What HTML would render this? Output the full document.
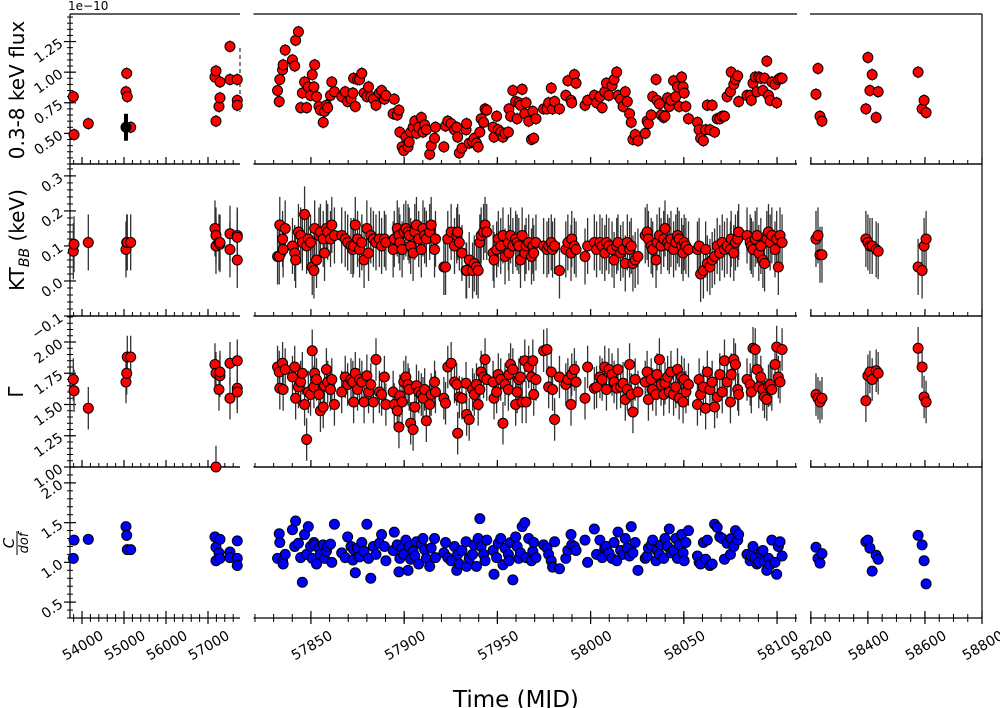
<!DOCTYPE html>
<html><head><meta charset="utf-8">
<style>
html,body{margin:0;padding:0;background:#fff;overflow:hidden;}
svg{display:block;font-family:"DejaVu Sans","Liberation Sans",sans-serif;}
</style></head>
<body>
<svg id="chart" width="1000" height="708" viewBox="0 0 1000 708" xmlns="http://www.w3.org/2000/svg" style="position:absolute;left:0;top:0;"></svg>
<script>
// ---- data: left panel (archival) ----
const tLeft = [53793,53810,54150,55047,55064,55078,55159,57166,57190,57190,57262,57285,57285,57523,57523,57697,57697,57697];
const fluxLeft = [0.80,0.49,0.58,0.84,0.99,0.80,0.55,0.96,1.01,0.60,0.72,0.92,0.79,1.21,0.94,0.94,0.77,0.73];
const ktLeft = [0.085,0.105,0.11,0.09,0.11,0.11,0.11,0.15,0.13,0.10,0.11,0.105,0.11,0.135,0.09,0.13,0.125,0.06];
const gammaLeft = [1.70,1.61,1.47,1.68,1.75,1.88,1.88,1.82,1.75,1.00,1.62,1.73,1.76,1.83,1.55,1.85,1.63,1.60];
const cdofLeft = [1.05,1.28,1.29,1.45,1.34,1.16,1.16,1.32,1.19,1.02,1.12,1.05,1.29,1.13,1.06,1.27,1.05,0.96];
const tBlack = [55047];
const fluxBlack = [0.55];
const fluxBlackErr = [0.11];

// ---- data: middle panel (monitoring) ----
const tMid = [
57832.1,57833.0,57833.3,57834.8,57835.1,57836.2,57840.1,57841.3,57841.8,57843.3,
57844.5,57845.4,57846.6,57847.7,57848.6,57849.8,57850.7,57851.6,57852.0,57853.0,
57854.3,57855.1,57856.6,57857.3,57858.3,57859.0,57860.5,57861.2,57862.6,57866.5,
57868.4,57869.7,57871.5,57872.5,57872.9,57873.8,57875.0,57876.1,57877.3,57878.5,
57880.0,57880.9,57882.1,57883.5,57884.9,57886.7,57887.9,57889.4,57890.2,57894.7,
57894.1,57896.3,57897.2,57897.7,57898.9,57899.8,57900.9,57902.1,57902.7,57903.5,
57904.8,57905.7,57906.6,57907.8,57909.2,57910.1,57911.0,57911.9,57913.7,57914.5,
57916.3,57916.8,57921.3,57922.2,57923.4,57925.2,57927.0,57928.2,57928.7,57929.6,
57931.0,57933.2,57933.5,57934.9,57936.7,57937.6,57938.8,57939.7,57940.6,57941.3,
57942.6,57943.4,57944.3,57947.7,57948.2,57949.6,57950.5,57951.8,57953.0,57954.1,
57955.9,57956.2,57957.1,57958.3,57959.8,57960.6,57961.5,57962.4,57963.3,57964.7,
57965.4,57966.8,57968.3,57969.0,57969.5,57970.7,57974.8,57976.6,57977.5,57978.9,
57979.6,57980.7,57983.3,57986.7,57987.8,57989.5,57989.9,57991.3,57992.2,57997.0,
57998.4,58002.0,58003.2,58005.0,58006.2,58007.6,58008.5,58009.8,58011.5,58012.6,
58014.0,58014.7,58016.1,58017.4,58018.6,58019.7,58020.9,58021.8,58022.7,58023.9,
58025.4,58029.3,58030.3,58031.0,58032.5,58033.3,58035.1,58035.6,58036.9,58037.8,
58039.2,58039.9,58041.3,58042.2,58043.1,58044.5,58045.7,58046.6,58047.5,58048.8,
58049.6,58050.2,58051.1,58052.5,58057.3,58058.2,58059.0,58060.5,58061.7,58062.6,
58064.0,58065.2,58066.5,58067.9,58069.3,58070.6,58071.8,58073.2,58075.0,58075.4,
58076.8,58077.7,58078.9,58079.4,58083.9,58085.6,58086.2,58087.1,58088.3,58089.2,
58090.2,58091.3,58092.4,58093.3,58094.5,58095.4,58096.3,58097.2,58098.9,58099.8,
58100.7,58101.6,58102.7];
const fluxMid = [
.85,.76,.94,1.02,1.06,1.18,1.10,1.05,1.26,1.33,
.71,.83,.92,.71,.88,.81,.98,.88,1.06,.80,
.72,.69,.59,.68,.73,.71,.81,.92,.84,.80,
.84,.76,.78,.83,.95,.72,.94,.94,.99,.83,
.80,.88,.80,.78,.73,.83,.85,.78,.81,.78,
.66,.65,.69,.51,.39,.36,.47,.39,.43,.51,
.55,.60,.50,.55,.63,.51,.57,.53,.33,.40,
.46,.55,.39,.56,.60,.58,.53,.55,.47,.34,
.38,.53,.58,.42,.43,.46,.42,.39,.51,.62,
.59,.70,.69,.55,.47,.64,.53,.51,.47,.50,
.51,.70,.64,.85,.76,.62,.75,.73,.86,.66,
.75,.60,.45,.68,.46,.62,.70,.70,.75,.87,
.70,.76,.70,.81,.93,.77,.75,.98,.91,.73,
.77,.81,.75,.80,.71,.84,.91,.81,.89,.94,
1.00,.81,.78,.72,.84,.76,.66,.59,.45,.49,
.44,.50,.60,.58,.65,.80,.94,.77,.74,.65,
.63,.64,.79,.72,.77,.93,.80,.88,.72,.96,
.88,.83,.72,.62,.59,.53,.46,.44,.53,.73,
.53,.73,.51,.62,.62,.64,.64,.80,.84,1.00,
.90,.94,.97,.76,.81,.81,.77,.91,.96,.84,
.96,.95,.85,.95,1.09,.81,.77,.92,.90,.75,
.94,.95,.95];
const ktMid = [
.07,.07,.16,.12,.09,.15,.10,.08,.06,.14,.13,.11,.19,.10,.12,.11,
.04,.03,.15,.06,.13,.14,.12,.08,.15,.14,.12,.16,.13,
.13,.12,.11,.10,.09,.10,.16,.12,.09,.11,.06,.15,.08,.13,.12,.11,.12,.10,.12,.11,
.12,.09,.15,.13,.11,.09,.14,.15,.14,.13,.10,.08,.14,.16,.12,.09,.15,.13,.12,.14,.16,.09,.12,
.04,.04,.12,.14,.10,.13,.14,.11,.08,.03,.03,.06,.03,.05,.04,.03,.11,.13,.14,.16,.14,
.08,.06,.09,.12,.10,.13,.07,.11,.08,.13,.10,.12,.11,.10,.06,.13,.08,.10,.11,.07,
.10,.08,.11,.10,.09,.10,.11,.09,.10,.03,.09,.11,.08,.12,.10,.09,.07,.10,
.11,.09,.11,.10,.08,.11,.10,.09,.06,.10,.11,.08,.09,.05,.11,.09,.10,.05,.06,.07,
.13,.14,.12,.10,.09,.06,.11,.13,.10,.12,.15,.11,.10,.12,.09,.11,.13,.12,.10,.08,.11,.10,.09,
.09,.10,.02,.03,.09,.05,.04,.06,.07,.10,.08,.11,.09,
.10,.09,.12,.08,.11,.12,.14,.13,.11,.10,.09,.12,.13,.08,.10,.06,.05,.12,.14,.11,.13,.09,.12,.04,.13,.11];
const gammaMid = [
1.80,1.76,1.63,1.83,1.62,1.78,1.72,1.80,1.55,1.64,1.68,1.75,1.50,1.22,1.60,1.58,
1.93,1.64,1.75,1.70,1.58,1.45,1.48,1.65,1.78,1.68,1.62,1.70,1.50,
1.60,1.72,1.66,1.70,1.68,1.52,1.75,1.62,1.70,1.68,1.52,1.73,1.60,1.66,1.52,1.86,1.60,1.58,1.72,1.50,
1.50,1.60,1.45,1.32,1.57,1.52,1.68,1.72,1.66,1.62,1.35,1.30,1.48,1.65,1.60,1.58,1.55,1.62,1.37,1.50,1.58,1.68,1.60,
1.55,1.51,1.80,1.83,1.68,1.66,1.27,1.56,1.55,1.67,1.42,1.38,1.62,1.58,1.66,1.50,1.62,1.76,1.72,1.86,1.70,
1.68,1.55,1.60,1.74,1.70,1.35,1.66,1.62,1.74,1.82,1.78,1.50,1.60,1.70,1.72,1.52,1.85,1.52,1.80,1.72,
1.85,1.58,1.70,1.93,1.94,1.64,1.76,1.62,1.38,1.72,1.66,1.70,1.50,1.74,1.78,1.68,1.55,1.80,
1.63,1.64,1.72,1.70,1.80,1.62,1.78,1.74,1.68,1.63,1.78,1.64,1.67,1.54,1.62,1.82,1.58,1.44,1.70,1.60,
1.68,1.76,1.54,1.70,1.62,1.58,1.74,1.86,1.66,1.58,1.67,1.72,1.60,1.76,1.58,1.64,1.78,1.55,1.72,1.52,1.70,1.60,1.66,
1.50,1.70,1.58,1.64,1.47,1.76,1.62,1.68,1.48,1.56,1.74,1.60,1.85,
1.68,1.52,1.74,1.86,1.82,1.62,1.58,1.70,1.66,1.60,1.95,1.94,1.78,1.64,1.72,1.62,1.56,1.54,1.65,1.66,1.62,1.82,1.96,1.72,1.68,1.94];
const cdofMid = [
1.05,1.36,1.25,1.02,0.98,1.10,1.41,1.20,1.52,1.24,1.06,0.75,1.35,1.10,1.45,1.20,
1.05,1.25,1.22,0.98,1.18,1.10,1.22,1.05,1.14,1.20,1.23,1.00,1.48,
1.12,1.06,1.32,1.20,1.03,1.16,0.87,1.18,1.07,1.25,1.14,1.48,1.05,0.80,1.20,1.10,1.24,1.35,1.20,1.02,
1.38,1.15,1.22,0.88,1.05,1.18,1.10,1.28,0.90,1.20,1.04,1.14,1.08,1.26,0.98,1.23,1.30,1.16,1.05,0.95,1.18,1.30,1.06,
1.12,1.25,1.06,1.02,1.20,0.90,1.10,0.98,1.15,1.26,0.95,1.05,1.10,1.22,0.95,1.30,1.55,1.20,1.10,1.02,1.28,
1.15,0.85,1.06,1.24,1.30,0.97,1.18,1.10,1.02,1.25,0.78,1.32,1.20,1.05,1.12,1.45,1.50,1.06,1.30,1.02,
1.14,1.25,1.06,1.22,1.18,1.10,1.02,0.94,1.26,0.92,1.05,1.15,1.35,1.22,1.20,1.15,1.28,1.00,
1.42,1.10,1.28,1.06,1.18,1.20,1.12,1.05,1.25,1.02,1.38,1.15,1.10,1.30,1.18,1.08,1.45,1.12,1.25,0.90,
1.05,1.08,1.18,1.22,1.28,1.02,1.15,1.10,1.22,1.05,1.30,1.20,1.42,1.12,1.15,1.30,1.05,1.22,1.35,1.12,1.02,1.25,1.40,
1.08,1.00,0.98,1.25,1.04,1.28,0.96,0.98,1.48,1.44,1.32,1.30,1.04,
1.24,1.10,1.30,1.20,1.40,1.28,1.35,1.10,1.02,1.08,1.20,1.06,0.98,1.00,1.12,1.15,1.02,0.90,1.05,0.97,1.28,1.00,0.85,1.20,1.26,1.08];

// ---- data: right panel ----
const tRight = [58218,58225,58232,58239,58393,58400,58407,58415,58429,58436,58576,58590,58597,58604];
const fluxRight = [0.82,1.03,0.64,0.60,0.70,1.12,0.85,0.98,0.63,0.84,1.00,0.70,0.77,0.67];
const ktRight = [0.12,0.13,0.075,0.075,0.12,0.11,0.10,0.10,0.09,0.085,0.04,0.03,0.10,0.12];
const gammaRight = [1.58,1.55,1.52,1.55,1.53,1.73,1.76,1.70,1.77,1.75,1.95,1.80,1.56,1.52];
const cdofRight = [1.19,1.05,0.99,1.11,1.26,1.28,1.18,0.89,1.09,1.04,1.34,1.22,1.02,0.73];

// typical error sizes per row
const fluxErr = 0.05, ktErr = 0.08, gammaErr = 0.17;

// ---- ticks ----
const xTicksLeft = [54000,55000,56000,57000];
const xTicksMid = [57850,57900,57950,58000,58050,58100];
const xTicksRight = [58200,58400,58600,58800];
const yTicksFlux = [0.50,0.75,1.00,1.25];
const yTicksKt = [-0.1,0.0,0.1,0.2,0.3];
const yTicksGamma = [1.00,1.25,1.50,1.75,2.00];
const yTicksCdof = [0.5,1.0,1.5,2.0];

const NS = "http://www.w3.org/2000/svg";
const svg = document.getElementById('chart');
function mk(tag, attrs, parent){
  const e = document.createElementNS(NS, tag);
  for (const k in attrs) e.setAttribute(k, attrs[k]);
  (parent||svg).appendChild(e);
  return e;
}
const cols = {
  L:{x0:70,x1:240,d0:53714,d1:57762},
  M:{x0:253.5,x1:797,d0:57819.2,d1:58110.7},
  R:{x0:810,x1:982,d0:58197,d1:58800}
};
const rows = [
  {y0:14,y1:164,v0:0.25,v1:1.475,ticks:yTicksFlux,minor:0.05,fmt:v=>v.toFixed(2)},
  {y0:164,y1:316,v0:-0.1,v1:0.334,ticks:yTicksKt,minor:0.02,fmt:v=>(v<0?'\u22120.1':v.toFixed(1))},
  {y0:316,y1:467,v0:1.0,v1:2.208,ticks:yTicksGamma,minor:0.05,fmt:v=>v.toFixed(2)},
  {y0:467,y1:618,v0:0.3,v1:2.2,ticks:yTicksCdof,minor:0.1,fmt:v=>v.toFixed(1)}
];
function xs(c,v){const C=cols[c];return C.x0+(v-C.d0)/(C.d1-C.d0)*(C.x1-C.x0);}
function ys(r,v){const R=rows[r];return R.y1-(v-R.v0)/(R.v1-R.v0)*(R.y1-R.y0);}

const g = mk('g',{});


rows.forEach((R,ri)=>{
  ['L','M','R'].forEach(c=>{
    const C=cols[c];
    const top = mk('line',{x1:C.x0,x2:C.x1,y1:R.y0,y2:R.y0,stroke:'#000','stroke-width':1.2},g);
    
    
    const bot = mk('line',{x1:C.x0,x2:C.x1,y1:R.y1,y2:R.y1,stroke:'#000','stroke-width':1.2},g);
    
    
  });
  const ls = mk('line',{x1:70,x2:70,y1:R.y0,y2:R.y1,stroke:'#000','stroke-width':1.2},g);
  
  
  const rs = mk('line',{x1:982,x2:982,y1:R.y0,y2:R.y1,stroke:'#000','stroke-width':1.2},g);
  
  
  for (let v=R.v0; v<=R.v1+1e-9; v+=R.minor){
    const y=ys(ri,v);
    const mt = mk('line',{x1:67,x2:73,y1:y,y2:y,stroke:'#000','stroke-width':1},g);
    
    
  }
  R.ticks.forEach(v=>{
    const y=ys(ri,v);
    const t = mk('line',{x1:64,x2:76,y1:y,y2:y,stroke:'#000','stroke-width':1.2},g);
    
    
    const lb = mk('text',{x:61,y:y+5,'font-size':14,'text-anchor':'end',transform:`rotate(-35 61 ${y})`,fill:'#000'});
    lb.textContent = R.fmt(v);
    
    
  });
  const specs = [['L',xTicksLeft,200],['M',xTicksMid,10],['R',xTicksRight,50]];
  specs.forEach(([c,maj,mn])=>{
    const C=cols[c];
    const start=Math.ceil(C.d0/mn)*mn;
    for(let v=start; v<=C.d1; v+=mn){
      const x=xs(c,v);
      const m=mk('line',{x1:x,x2:x,y1:R.y1-4,y2:R.y1+(ri==3?4:0),stroke:'#000','stroke-width':1},g);
      
      
    }
    maj.forEach(v=>{
      const x=xs(c,v);
      const m=mk('line',{x1:x,x2:x,y1:R.y1-7,y2:R.y1+(ri==3?6:0),stroke:'#000','stroke-width':1.2},g);
      
      
      if(ri==3){
        const ax=x+20, ay=634;
        const lb=mk('text',{x:ax,y:ay+5,'font-size':14,'text-anchor':'end',transform:`rotate(-30 ${ax} ${ay})`,fill:'#000'});
        lb.textContent=String(v);
        
        
      }
    });
  });
});
// short dashed break segment at left column right edge (top row only)
const br = mk('line',{x1:240,x2:240,y1:48,y2:112,stroke:'#000','stroke-width':1,'stroke-dasharray':'4,3'},g);



function series(c, ri, ts, vs, err, fill, name){
  const sg = mk('g',{});
  
  
  const R=rows[ri];
  ts.forEach((t,i)=>{
    const x=xs(c,t);
    if(err){
      const e=mk('line',{x1:x,x2:x,y1:Math.max(R.y0,ys(ri,vs[i]+err)),y2:Math.min(R.y1,ys(ri,vs[i]-err)),stroke:'#333','stroke-width':1.3},sg);
      
      
    }
  });
  ts.forEach((t,i)=>{
    const x=xs(c,t), y=ys(ri,vs[i]);
    const p=mk('circle',{cx:x,cy:y,r:5,fill:fill,stroke:'#000','stroke-width':1},sg);
    
    
  });
}
series('L',0,tLeft,fluxLeft,fluxErr,'#ff0000','flux-series-left');
tBlack.forEach((t,i)=>{
  const x=xs('L',t);
  const e=mk('line',{x1:x,x2:x,y1:ys(0,fluxBlack[i]+fluxBlackErr[i]),y2:ys(0,fluxBlack[i]-fluxBlackErr[i]),stroke:'#000','stroke-width':4});
  
  
  const p=mk('circle',{cx:x,cy:ys(0,fluxBlack[i]),r:5,fill:'#000',stroke:'#000'});
  
  
});
series('M',0,tMid,fluxMid,fluxErr,'#ff0000','flux-series-mid');
series('R',0,tRight,fluxRight,fluxErr,'#ff0000','flux-series-right');
series('L',1,tLeft,ktLeft,ktErr,'#ff0000','kt-series-left');
series('M',1,tMid,ktMid,ktErr,'#ff0000','kt-series-mid');
series('R',1,tRight,ktRight,ktErr,'#ff0000','kt-series-right');
series('L',2,tLeft,gammaLeft,gammaErr,'#ff0000','gamma-series-left');
series('M',2,tMid,gammaMid,gammaErr,'#ff0000','gamma-series-mid');
series('R',2,tRight,gammaRight,gammaErr,'#ff0000','gamma-series-right');
series('L',3,tLeft,cdofLeft,0,'#0000ff','cdof-series-left');
series('M',3,tMid,cdofMid,0,'#0000ff','cdof-series-mid');
series('R',3,tRight,cdofRight,0,'#0000ff','cdof-series-right');
</script>
<svg width="1000" height="708" style="position:absolute;left:0;top:0;font-family:'DejaVu Sans','Liberation Sans',sans-serif;pointer-events:none;">
  <text x="68" y="10" font-size="12">1e−10</text>
  <text x="0" y="0" font-size="20" text-anchor="middle" transform="translate(24 90) rotate(-90)">0.3-8 keV flux</text>
  <text x="0" y="0" font-size="20" text-anchor="middle" transform="translate(24 240) rotate(-90)">KT<tspan font-size="14" font-style="italic" dy="5">BB</tspan><tspan dy="-5"> (keV)</tspan></text>
  <text x="0" y="0" font-size="20" text-anchor="middle" transform="translate(23 392) rotate(-90)">Γ</text>
  <g transform="translate(15 543) rotate(-90)">
    <text x="0" y="-1" font-size="15" font-style="italic" text-anchor="middle">C</text>
    <line x1="-12" x2="12" y1="2" y2="2" stroke="#000" stroke-width="1"/>
    <text x="0" y="13" font-size="13" font-style="italic" text-anchor="middle">dof</text>
  </g>
  <text x="453" y="707" font-size="23" text-anchor="start">Time (MJD)</text>
</svg>
</body></html>
